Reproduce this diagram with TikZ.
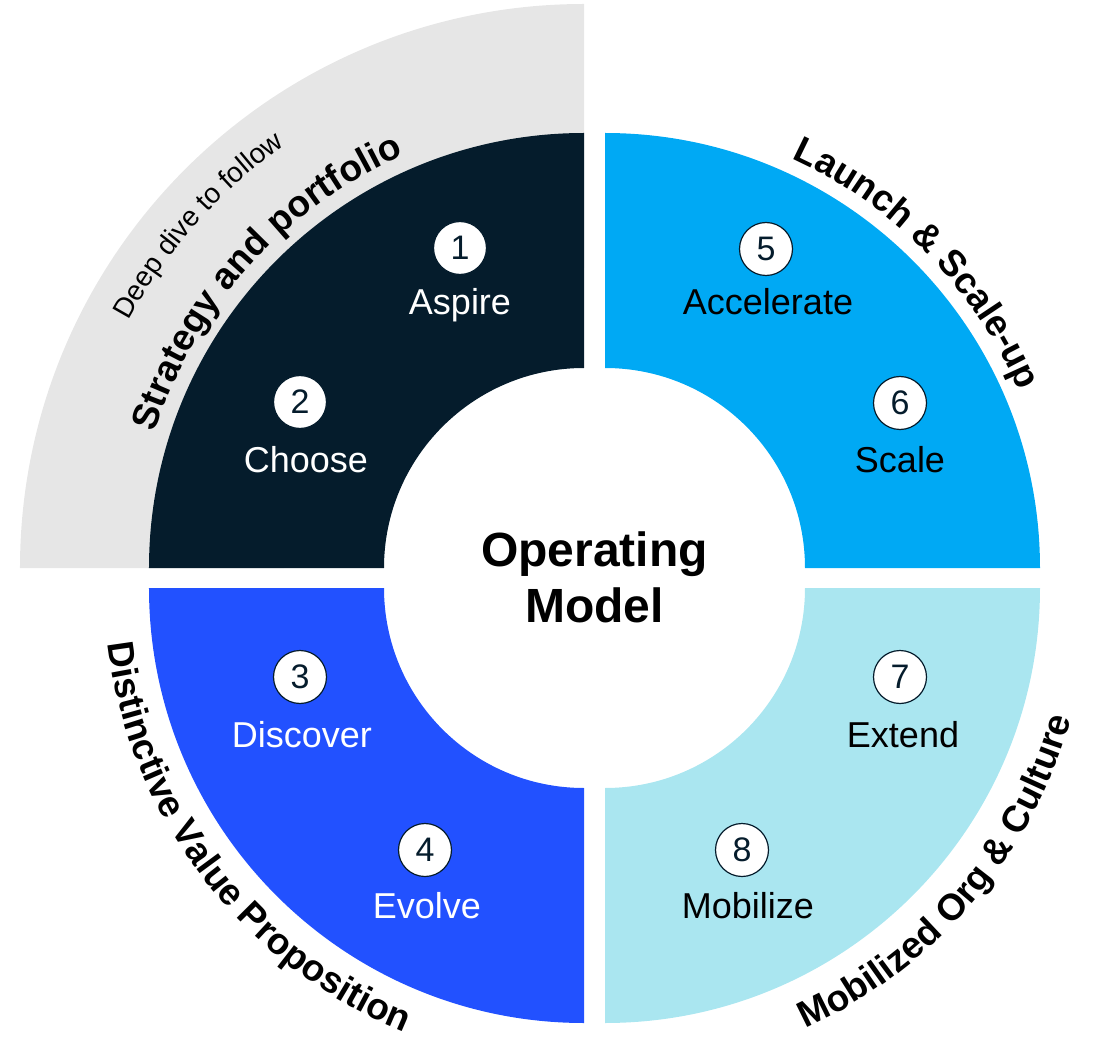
\documentclass[tikz,border=0pt]{standalone}
\usepackage{fontspec}
\setmainfont{Liberation Sans}
\usetikzlibrary{decorations.text}

\definecolor{navy}{HTML}{051C2C}
\definecolor{skyblue}{HTML}{00A9F4}
\definecolor{royal}{HTML}{2251FF}
\definecolor{paleblue}{HTML}{AAE6F0}
\definecolor{band}{HTML}{E6E6E6}

\newcommand{\labelfont}{\fontsize{36}{43}\selectfont}
\newcommand{\numfont}{\fontsize{34}{40}\selectfont}
\newcommand{\arcfont}{\bfseries\fontsize{37}{44}\selectfont}
\newcommand{\notefont}{\fontsize{28}{33}\selectfont}

\begin{document}
\begin{tikzpicture}[x=1pt,y=1pt,
  pics/ringsector/.style n args={5}{code={
    \fill[#5] (#1:#3) -- (#1:#4) arc[start angle=#1, end angle=#2, radius=#4]
      -- (#2:#3) arc[start angle=#2, end angle=#1, radius=#3] -- cycle;
  }},
  stepnum/.style={circle, fill=white, draw=navy, line width=1.2pt,
    minimum size=53pt, inner sep=0pt, text=navy, font=\numfont},
  steplabel/.style={anchor=base, inner sep=0pt, font=\labelfont},
  arctext/.style={decorate, decoration={text along path, text align=center, text={#1}}}
]
\useasboundingbox (-594.5,-458) rectangle (499.5,578);

% corners of the four exploded quarters
\coordinate (ctl) at (-10.5,10);
\coordinate (ctr) at (10.5,10);
\coordinate (cbl) at (-10.5,-10);
\coordinate (cbr) at (10.5,-10);

% grey band behind the first quarter
\pic at (ctl) {ringsector={90}{180}{300}{564}{band}};

% the four quarters of the ring
\pic at (ctl) {ringsector={90}{180}{200}{435}{navy}};
\pic at (ctr) {ringsector={0}{90}{200}{435}{skyblue}};
\pic at (cbl) {ringsector={180}{270}{200}{435}{royal}};
\pic at (cbr) {ringsector={270}{360}{200}{435}{paleblue}};

% titles along the outer edge
\path[arctext={|\notefont|Deep dive to follow}]
  (ctl) ++(178.4:518) arc[start angle=178.4, end angle=98.4, radius=518];
\path[arctext={|\arcfont|Strategy and portfolio}]
  (ctl) ++(180.5:450) arc[start angle=180.5, end angle=95.5, radius=450];
\path[arctext={|\arcfont|Launch {\&} Scale-up}]
  (ctr) ++(88.3:450) arc[start angle=88.3, end angle=0.3, radius=450];
\path[arctext={|\arcfont|Distinctive Value Proposition}]
  (cbl) ++(172.3:479) arc[start angle=172.3, end angle=262.3, radius=479];
\path[arctext={|\arcfont|Mobilized Org {\&} Culture}]
  (cbr) ++(274.4:484) arc[start angle=274.4, end angle=364.4, radius=484];

% centre
\node[font=\bfseries\fontsize{48}{56}\selectfont, align=center] (title) at (0,0.5) {Operating\\Model};

% numbered steps
\node[stepnum] (n1) at (-134.5,330) {1};
\node[stepnum] (n2) at (-294.5,176) {2};
\node[stepnum] (n3) at (-294.5,-99) {3};
\node[stepnum] (n4) at (-169.5,-272) {4};
\node[stepnum] (n5) at (171.5,329) {5};
\node[stepnum] (n6) at (305.5,175) {6};
\node[stepnum] (n7) at (305.5,-99) {7};
\node[stepnum] (n8) at (147.5,-272) {8};

\node[steplabel, text=white] (l1) at (-134.5,263) {Aspire};
\node[steplabel, text=white] (l2) at (-288.5,106) {Choose};
\node[steplabel, text=white] (l3) at (-292.5,-169) {Discover};
\node[steplabel, text=white] (l4) at (-167.5,-340) {Evolve};
\node[steplabel, text=black] (l5) at (173.5,263) {Accelerate};
\node[steplabel, text=black] (l6) at (305.5,106) {Scale};
\node[steplabel, text=black] (l7) at (308.5,-169) {Extend};
\node[steplabel, text=black] (l8) at (153.5,-340) {Mobilize};
\end{tikzpicture}
\end{document}
